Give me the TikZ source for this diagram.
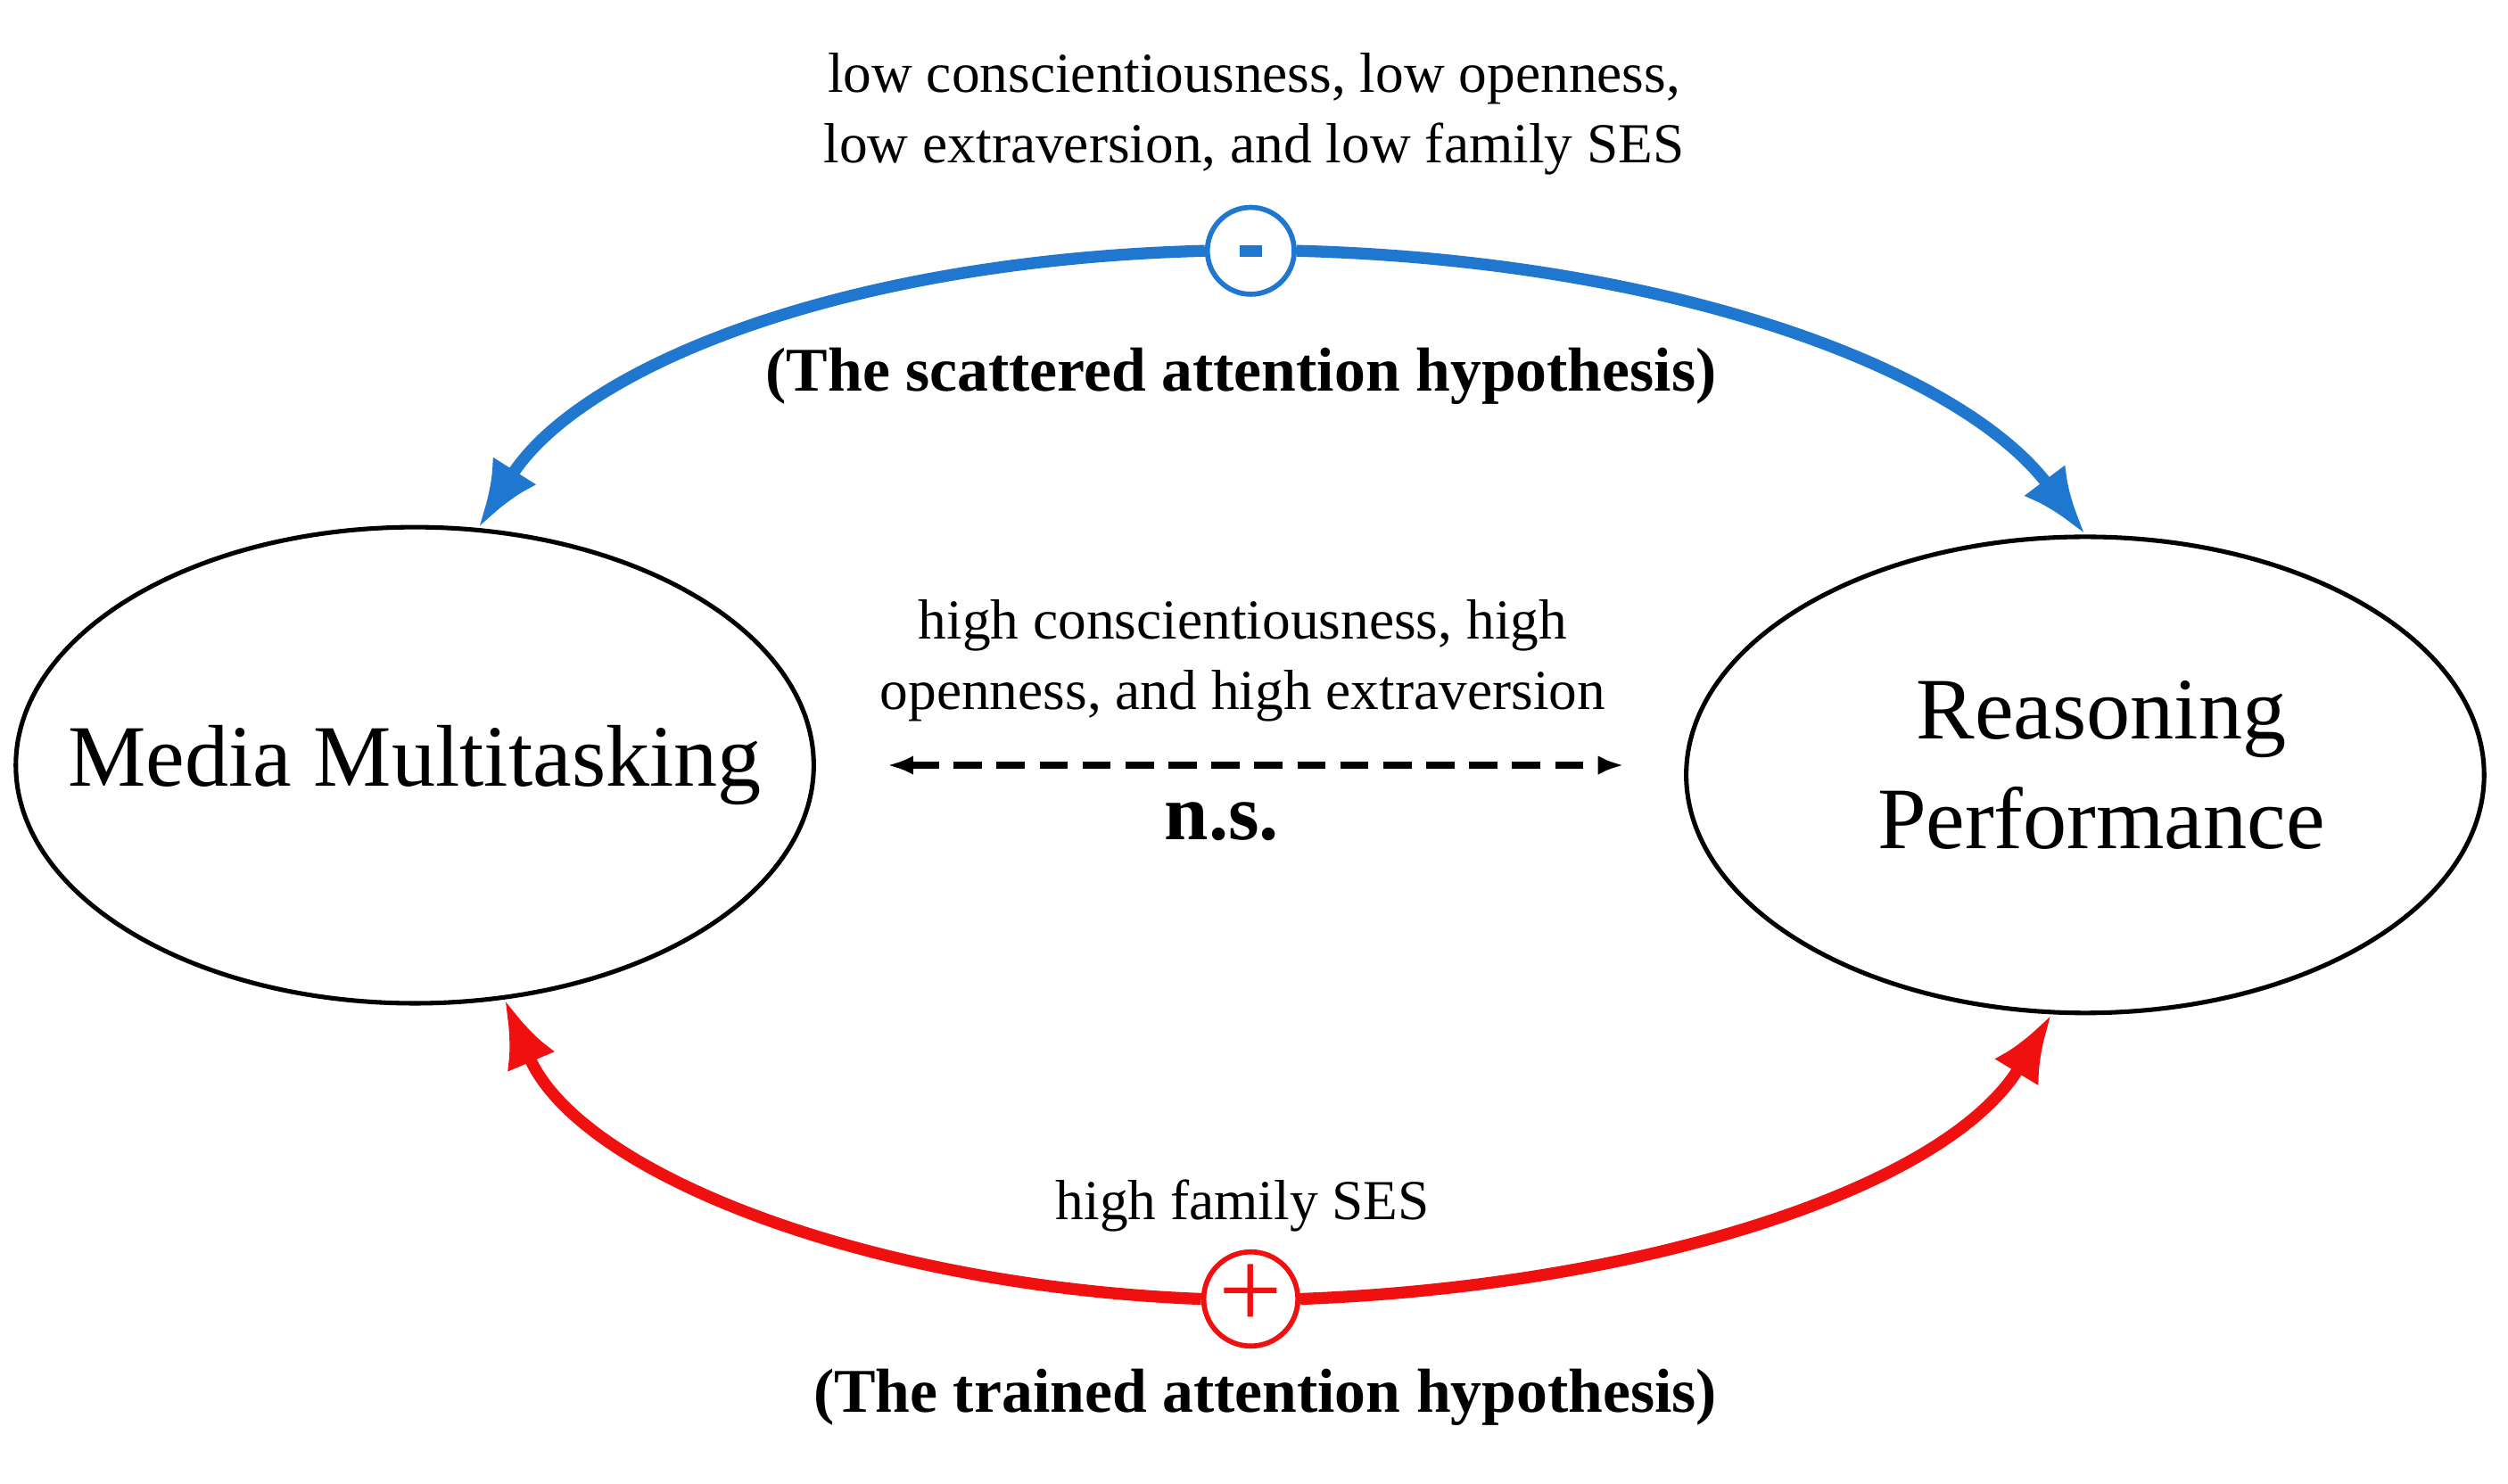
\documentclass[tikz,border=0pt]{standalone}
\usepackage{fontspec}
\setmainfont{Liberation Serif}
\usetikzlibrary{shapes.geometric,arrows.meta}
\definecolor{bl}{HTML}{1F77D0}
\definecolor{rd}{HTML}{F01010}
\begin{document}
\begin{tikzpicture}[x=0.01cm,y=-0.01cm,
  ell/.style={draw,thick,ellipse,inner sep=0pt,minimum width=4.96cm,minimum height=2.96cm},
  big/.style={align=center,font=\fontsize{15.5}{19.5}\selectfont},
  sm/.style={font=\fontsize{10}{12.5}\selectfont,align=center},
  bd/.style={font=\bfseries\fontsize{11}{13}\selectfont},
  sign/.style={circle,draw,line width=0.9pt,minimum size=0.54cm,inner sep=0pt},
  arc/.style={line width=2.1pt,-{Latex[length=0.42cm,width=0.32cm]}}]
\useasboundingbox (0,0) rectangle (1560,923);
\node[ell] (L) at (258,476) {};
\node[big] (Lt) at (L.center) {Media Multitasking};
\node[ell] (R) at (1297,482) {};
\node[big] (Rt) at (1307,476) {Reasoning\\Performance};
\node[sign,draw=bl] (minus) at (778,156) {};
\draw[bl,line width=2pt] ([xshift=-0.07cm]minus.center) -- ([xshift=0.07cm]minus.center);
\node[sign,draw=rd,text=rd,font=\fontsize{20}{20}\selectfont] (plus) at (778,808) {\raisebox{1pt}{+}};
\draw[arc,bl] (minus.west) .. controls (520,162) and (360,230) .. (L.75);
\draw[arc,bl] (minus.east) .. controls (1040,162) and (1220,230) .. (R.90);
\draw[arc,rd] (plus.west) .. controls (540,800) and (360,730) .. (L.-69);
\draw[arc,rd] (plus.east) .. controls (1020,800) and (1210,740) .. (R.262);
\coordinate (da) at (552,476);
\coordinate (db) at (1010,476);
\draw[line width=1.4pt,dash pattern=on 5pt off 2.6pt,{Latex[length=0.16cm]}-{Latex[length=0.16cm]}] (da) -- (db);
\node[sm] (t1) at (780,71) {low conscientiousness, low openness,\\low extraversion, and low family SES};
\node[bd] (t2) at (772,234) {(The scattered attention hypothesis)};
\node[sm] (t3) at (773,411) {high conscientiousness, high\\openness, and high extraversion};
\node[font=\bfseries\fontsize{14}{16}\selectfont] (ns) at (760,511) {n.s.};
\node[sm] (t4) at (773,750) {high family SES};
\node[bd] (t5) at (787,869) {(The trained attention hypothesis)};
\end{tikzpicture}
\end{document}
